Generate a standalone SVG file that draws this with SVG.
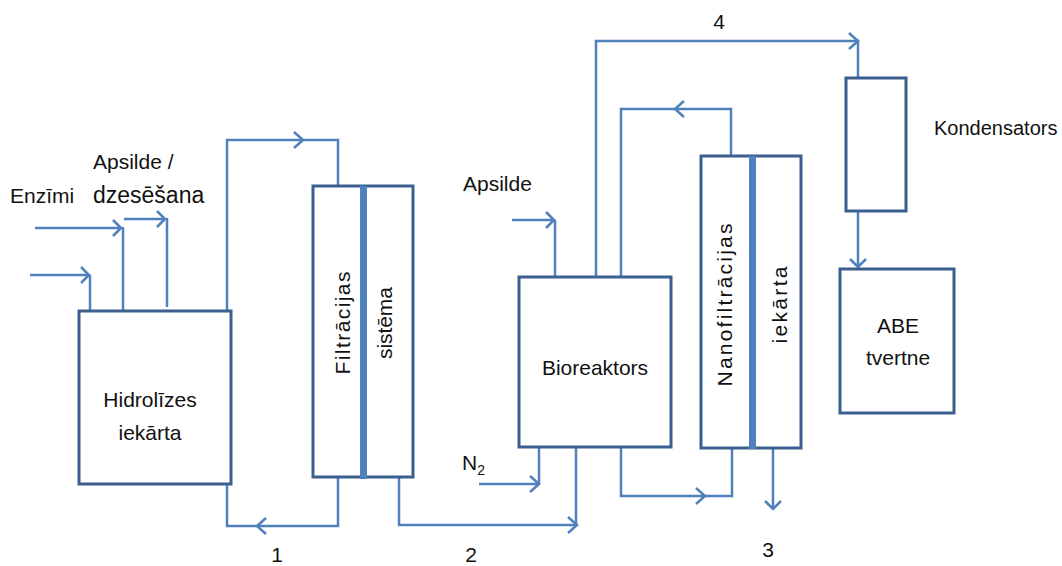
<svg xmlns="http://www.w3.org/2000/svg" width="1062" height="566" viewBox="0 0 1062 566">
<style>
.box{fill:#fff;stroke:#3B5F8E;stroke-width:3}
.bar{fill:#4F81BD}
.c{fill:none;stroke:#4F81BD;stroke-width:2.5;stroke-linejoin:miter}
.t{font-family:"Liberation Sans",Arial,sans-serif;font-size:21px;fill:#111}
.m{text-anchor:middle}
</style>
<rect width="1062" height="566" fill="#fff"/>
<g id="connectors">
<path class="c" d="M35,228 H121 M113,220 L121,228 L113,236"/>
<path class="c" d="M123,227 V311"/>
<path class="c" d="M30,275 H89 M81,267 L89,275 L81,283"/>
<path class="c" d="M90,275 V311"/>
<path class="c" d="M124,219 H165 M157,211 L165,219 L157,227"/>
<path class="c" d="M167,218 V307"/>
<path class="c" d="M227,311 V140 H338 V186"/>
<path class="c" d="M294,132 L303,140 L294,148"/>
<path class="c" d="M338,477 V526 H227 V484"/>
<path class="c" d="M266,518 L257,526 L266,534"/>
<path class="c" d="M399,477 V525 H576 V447"/>
<path class="c" d="M568,517 L577,525 L568,533"/>
<path class="c" d="M479,484 H538 M530,476 L539,484 L530,492"/>
<path class="c" d="M539,484 V447"/>
<path class="c" d="M512,220 H554 M546,212 L554,220 L546,228"/>
<path class="c" d="M555,220 V277"/>
<path class="c" d="M596,277 V41 H858 V148"/>
<path class="c" d="M849,33 L858,41 L849,49"/>
<path class="c" d="M621,277 V109 H731 V156"/>
<path class="c" d="M684,101 L675,109 L684,117"/>
<path class="c" d="M621,447 V496 H732 V448"/>
<path class="c" d="M696,488 L705,496 L696,504"/>
<path class="c" d="M773,448 V509 M765,501 L773,509 L781,501"/>
<path class="c" d="M858,212 V267 M850,259 L858,267 L866,259"/>
</g>
<g id="hydrolysis">
<rect class="box" x="79" y="311" width="152" height="173"/>
<text class="t m" x="150" y="407">Hidrolīzes</text>
<text class="t m" x="150" y="440">iekārta</text>
</g>
<g id="filtration">
<rect class="box" x="313" y="186" width="100" height="291"/>
<rect class="bar" x="360" y="186" width="7" height="293"/>
<text class="t m" transform="translate(350,323) rotate(-90)" textLength="103" lengthAdjust="spacing">Filtrācijas</text>
<text class="t m" transform="translate(392,323) rotate(-90)" textLength="72" lengthAdjust="spacing">sistēma</text>
</g>
<g id="bioreactor">
<rect class="box" x="519" y="277" width="152" height="170"/>
<text class="t m" x="595" y="375">Bioreaktors</text>
</g>
<g id="nanofiltration">
<rect class="box" x="701" y="156" width="100" height="292"/>
<rect class="bar" x="749" y="156" width="7" height="293"/>
<text class="t m" transform="translate(732,305) rotate(-90)" textLength="163" lengthAdjust="spacing">Nanofiltrācijas</text>
<text class="t m" transform="translate(787,305) rotate(-90)" textLength="77" lengthAdjust="spacing">iekārta</text>
</g>
<g id="condenser">
<rect class="box" x="846" y="78" width="60" height="133"/>
<text class="t" x="934" y="135" style="font-size:20px">Kondensators</text>
</g>
<g id="abe-tank">
<rect class="box" x="840" y="269" width="114" height="144"/>
<text class="t m" x="898" y="333">ABE</text>
<text class="t m" x="898" y="365">tvertne</text>
</g>
<g id="labels">
<text class="t" x="10" y="203">Enzīmi</text>
<text class="t" x="93" y="169">Apsilde /</text>
<text class="t" x="93" y="203" style="font-size:23px">dzesēšana</text>
<text class="t" x="463" y="191">Apsilde</text>
<text class="t" x="462" y="470">N<tspan font-size="14" dy="5">2</tspan></text>
<text class="t m" x="277" y="562">1</text>
<text class="t m" x="471" y="562">2</text>
<text class="t m" x="768" y="557">3</text>
<text class="t m" x="719" y="29">4</text>
</g>
</svg>
